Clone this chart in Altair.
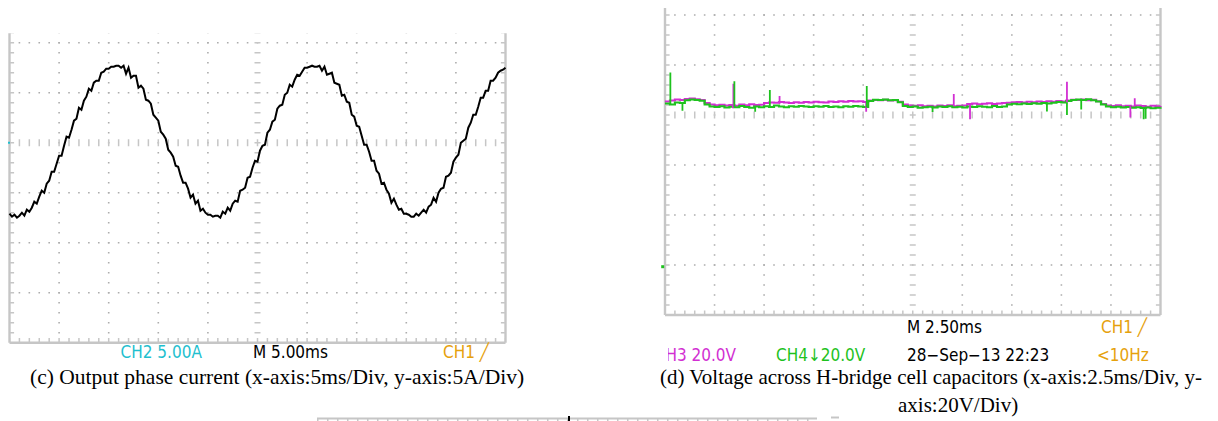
import altair as alt
import pandas as pd

# ---------------- data ----------------
# (c) CH2 output phase current [A], one sample every 0.25 ms, 0 .. 50 ms
CURRENT_STEP_MS = 0.25
current_a = [
    -7.1, -7.4, -7.2, -7.5, -7.3, -7.0, -7.3, -6.7, -6.9, -6.5, -5.9, -6.1, -5.4, -4.8, -5.0, -4.1, -3.8, -2.9, -2.9, -2.1,
    -1.3, -1.3, -0.3, 0.6, 0.5, 1.3, 2.2, 2.4, 3.5, 3.3, 4.2, 4.6, 5.4, 5.2, 6.0, 6.2, 6.2, 7.0, 7.1, 7.4,
    7.4, 7.6, 7.6, 7.7, 7.7, 7.5, 7.7, 6.9, 7.5, 6.5, 6.7, 6.7, 5.5, 5.7, 5.4, 4.3, 4.2, 3.9, 2.8, 2.5,
    2.2, 1.1, 0.8, 0.4, -0.7, -1.0, -1.4, -2.3, -2.4, -3.3, -4.0, -4.0, -4.6, -5.5, -5.2, -6.1, -5.8, -6.8, -6.6, -7.0,
    -7.2, -7.2, -7.4, -7.3, -7.3, -7.5, -6.9, -7.1, -6.5, -6.8, -6.1, -5.8, -5.9, -4.8, -4.7, -4.5, -3.5, -3.4, -2.5, -1.8,
    -1.9, -0.8, -0.3, -0.2, 1.0, 1.3, 2.1, 2.3, 3.4, 3.7, 3.8, 4.8, 5.0, 5.8, 5.6, 6.3, 6.8, 6.7, 7.1, 7.5,
    7.5, 7.6, 7.7, 7.6, 7.6, 7.7, 7.2, 7.6, 6.8, 6.9, 7.0, 6.0, 5.9, 5.8, 4.7, 4.8, 4.1, 4.0, 2.8, 2.6,
    1.7, 1.6, 0.7, -0.2, -0.2, -0.9, -1.8, -1.8, -2.8, -3.1, -4.1, -4.0, -4.7, -5.1, -6.0, -5.6, -6.2, -6.7, -6.6, -7.1,
    -7.1, -7.2, -7.4, -7.4, -7.1, -7.3, -7.0, -6.7, -7.0, -6.4, -6.2, -5.5, -5.9, -5.0, -4.6, -4.5, -3.4, -3.3, -3.0, -1.9,
    -1.5, -1.2, 0.0, 0.2, 0.4, 1.5, 2.0, 2.8, 2.8, 3.6, 4.5, 4.5, 5.2, 5.2, 6.2, 6.2, 6.5, 7.0, 7.2, 7.3, 7.5,
]

# (d) capacitor voltages [V], one sample every 0.25 ms, 0 .. 25 ms
VOLT_STEP_MS = 0.25
ch4_v = [
    64.6, 64.2, 65.0, 64.8, 65.9, 66.2, 66.0, 65.7, 64.2, 63.4, 63.2, 63.5, 63.0, 63.3, 63.1, 63.6,
    63.2, 62.9, 63.4, 63.1, 63.5, 63.2, 63.8, 63.4, 63.1, 63.5, 63.3, 63.6, 63.4, 63.2, 63.5, 63.3,
    63.6, 63.2, 63.4, 63.1, 63.5, 63.3, 63.6, 63.4, 63.2, 65.6, 66.1, 66.0, 66.2, 65.9, 66.0, 65.1,
    63.6, 63.2, 63.4, 62.9, 63.1, 63.3, 63.0, 63.4, 63.2, 63.5, 63.1, 63.3, 63.0, 63.4, 63.2, 63.5,
    63.3, 63.1, 63.6, 63.2, 63.4, 64.2, 64.5, 64.3, 64.6, 64.4, 64.7, 64.5, 64.8, 64.6, 64.9, 65.2,
    65.0, 65.6, 66.0, 66.2, 66.0, 66.3, 65.9, 65.4, 64.2, 63.4, 63.1, 63.3, 63.0, 63.2, 62.9, 63.1,
    62.8, 63.0, 62.7, 62.9, 63.1,
]
ch3_v = [
    65.4, 65.8, 66.2, 66.0, 66.4, 66.6, 66.3, 66.0, 64.8, 64.2, 63.9, 64.1, 63.8, 64.0, 63.7, 64.2,
    63.9, 64.3, 64.0, 64.1, 64.8, 65.0, 64.9, 65.2, 65.0, 64.8, 65.1, 64.9, 65.2, 65.0, 65.3, 65.1,
    65.0, 65.4, 65.2, 65.5, 65.3, 65.6, 65.4, 65.5, 65.2, 65.8, 66.0, 65.9, 66.1, 65.8, 65.9, 65.3,
    64.2, 63.8, 63.6, 63.9, 63.5, 63.7, 63.4, 63.8, 63.6, 63.9, 63.5, 63.7, 63.8, 64.4, 64.6, 64.3,
    64.5, 64.7, 64.4, 64.6, 64.8, 64.9, 65.1, 65.2, 65.0, 65.3, 65.1, 65.4, 65.2, 65.5, 65.3, 65.6,
    65.4, 65.8, 66.1, 66.0, 66.2, 65.9, 66.1, 65.5, 64.4, 63.8, 63.6, 63.9, 63.5, 63.7, 63.4, 63.8,
    63.6, 63.3, 63.7, 63.5, 63.6,
]
# narrow switching spikes: time [ms], low [V], high [V]
ch4_spike_t = [0.27, 0.88, 3.50, 4.55, 5.29, 10.18, 13.50, 19.27, 20.28, 21.00, 24.15, 24.25]
ch4_spike_lo = [64.0, 61.7, 63.0, 61.3, 63.0, 63.0, 61.2, 61.4, 60.0, 62.2, 58.3, 58.5]
ch4_spike_hi = [77.0, 65.0, 73.5, 63.5, 70.0, 71.6, 63.5, 64.6, 65.0, 66.0, 63.0, 63.0]
ch3_spike_t = [3.42, 3.45, 5.78, 10.15, 14.57, 15.39, 20.28, 23.48, 23.70]
ch3_spike_lo = [62.7, 63.0, 64.5, 61.3, 63.5, 58.3, 65.0, 59.0, 63.5]
ch3_spike_hi = [64.0, 72.5, 67.6, 65.0, 68.4, 64.0, 73.3, 63.5, 66.7]

# ---------------- styling ----------------
CYAN = "#1fbfcf"
ORANGE = "#e6a10c"
MAGENTA = "#d22fd2"
GREEN = "#1ec21e"
DOT = "#adadad"
BORDER = "#c6c6c6"
SCOPE_FONT = "DejaVu Sans Condensed, Liberation Sans Narrow, DejaVu Sans, sans-serif"
SERIF = "Liberation Serif, Times New Roman, serif"
ONE = pd.DataFrame({"k": [0]})

# panel geometry in chart pixels (chart origin = page (8, 8))
LEFT = dict(x0=1.5, x1=497.5, yb=334.7, yt=25.3, xdom=(0.0, 50.0), ydom=(-20.0, 10.94),
            xdiv=5.0, ydiv=5.0, xc=25.0, yc=0.0)
RIGHT = dict(x0=657.0, x1=1152.5, yb=307.0, yt=0.0, xdom=(0.0, 25.0), ydom=(-20.0, 102.8),
             xdiv=2.5, ydiv=20.0, xc=12.5, yc=60.0)


def sx(P):
    return alt.Scale(domain=list(P["xdom"]), range=[P["x0"], P["x1"]], zero=False, nice=False)


def sy(P):
    return alt.Scale(domain=list(P["ydom"]), range=[P["yb"], P["yt"]], zero=False, nice=False)


def frame(P):
    X = lambda f: alt.X(f, type="quantitative", scale=sx(P), axis=None)
    Y = lambda f: alt.Y(f, type="quantitative", scale=sy(P), axis=None)
    x0, x1 = P["xdom"]
    yb, yt = P["ydom"]
    ux = (x1 - x0) / (P["x1"] - P["x0"])
    uy = (yt - yb) / (P["yb"] - P["yt"])
    nx = int(round((x1 - x0) / P["xdiv"]))
    dotx = (P["x1"] - P["x0"]) / nx / 5.0
    doty = P["ydiv"] / uy / 5.0
    cols = [x0 + i * P["xdiv"] for i in range(1, nx) if abs(x0 + i * P["xdiv"] - P["xc"]) > 1e-9]
    rows = []
    v = yb + P["ydiv"]
    while v < yt:
        if abs(v - P["yc"]) > 1e-9:
            rows.append(v)
        v += P["ydiv"]
    L = []
    L.append(alt.Chart(pd.DataFrame({"y": rows, "xa": x0, "xb": x1})).mark_rule(
        color=DOT, strokeWidth=1.6, strokeDash=[1.6, dotx - 1.6], strokeDashOffset=0.8
    ).encode(x=X("xa"), x2="xb", y=Y("y")))
    L.append(alt.Chart(pd.DataFrame({"x": cols, "ya": yb, "yz": yt})).mark_rule(
        color=DOT, strokeWidth=1.6, strokeDash=[1.6, doty - 1.6], strokeDashOffset=0.8
    ).encode(x=X("x"), y=Y("ya"), y2="yz"))
    # centre lines with minor tick marks
    L.append(alt.Chart(pd.DataFrame({"y": [P["yc"]], "xa": x0, "xb": x1})).mark_rule(
        color=BORDER, strokeWidth=7, strokeDash=[1.5, dotx - 1.5], strokeDashOffset=0.75
    ).encode(x=X("xa"), x2="xb", y=Y("y")))
    L.append(alt.Chart(pd.DataFrame({"x": [P["xc"]], "ya": yb, "yz": yt})).mark_rule(
        color=BORDER, strokeWidth=6, strokeDash=[1.5, doty - 1.5], strokeDashOffset=0.75
    ).encode(x=X("x"), y=Y("ya"), y2="yz"))
    # inner border ticks
    L.append(alt.Chart(pd.DataFrame({"x": [x0 + 2.6 * ux, x1 - 2.6 * ux], "ya": yb, "yz": yt})).mark_rule(
        color=BORDER, strokeWidth=4, strokeDash=[1.5, doty - 1.5], strokeDashOffset=0.75
    ).encode(x=X("x"), y=Y("ya"), y2="yz"))
    L.append(alt.Chart(pd.DataFrame({"y": [yb + 2.6 * uy], "xa": x0, "xb": x1})).mark_rule(
        color=BORDER, strokeWidth=4, strokeDash=[1.5, dotx - 1.5], strokeDashOffset=0.75
    ).encode(x=X("xa"), x2="xb", y=Y("y")))
    # borders (left, right, bottom)
    L.append(alt.Chart(pd.DataFrame({"x": [x0, x1], "ya": yb, "yz": yt})).mark_rule(
        color=BORDER, strokeWidth=2.4
    ).encode(x=X("x"), y=Y("ya"), y2="yz"))
    L.append(alt.Chart(pd.DataFrame({"y": [yb], "xa": x0, "xb": x1})).mark_rule(
        color=BORDER, strokeWidth=2.4
    ).encode(x=X("xa"), x2="xb", y=Y("y")))
    return L


def label(txt, x, y, color, size=17, font=SCOPE_FONT, align="left"):
    return alt.Chart(ONE).mark_text(
        text=txt, color=color, fontSize=size, font=font, align=align, baseline="middle"
    ).encode(x=alt.value(x), y=alt.value(y))


layers = []

# ---- (c) left panel ----
layers += frame(LEFT)
cur_df = pd.DataFrame({"t": [i * CURRENT_STEP_MS for i in range(len(current_a))], "i": current_a})
layers.append(alt.Chart(cur_df).mark_line(color="black", strokeWidth=2.0).encode(
    x=alt.X("t:Q", scale=sx(LEFT), axis=None), y=alt.Y("i:Q", scale=sy(LEFT), axis=None)))
layers.append(alt.Chart(ONE).mark_rule(color=CYAN, strokeWidth=2).encode(
    x=alt.value(0), x2=alt.value(2), y=alt.value(134.7)))

# ---- (d) right panel ----
layers += frame(RIGHT)
v_t = [i * VOLT_STEP_MS for i in range(len(ch4_v))]
XR = alt.X("t:Q", scale=sx(RIGHT), axis=None)
layers.append(alt.Chart(pd.DataFrame({"t": v_t, "v": ch3_v})).mark_line(
    color=MAGENTA, strokeWidth=2.2, interpolate="step-after").encode(x=XR, y=alt.Y("v:Q", scale=sy(RIGHT), axis=None)))
layers.append(alt.Chart(pd.DataFrame({"t": v_t, "v": ch4_v})).mark_line(
    color=GREEN, strokeWidth=2.2, interpolate="step-after").encode(x=XR, y=alt.Y("v:Q", scale=sy(RIGHT), axis=None)))
layers.append(alt.Chart(pd.DataFrame({"t": ch3_spike_t, "lo": ch3_spike_lo, "hi": ch3_spike_hi})).mark_rule(
    color=MAGENTA, strokeWidth=1.8).encode(x=XR, y=alt.Y("lo:Q", scale=sy(RIGHT), axis=None), y2="hi:Q"))
layers.append(alt.Chart(pd.DataFrame({"t": ch4_spike_t, "lo": ch4_spike_lo, "hi": ch4_spike_hi})).mark_rule(
    color=GREEN, strokeWidth=1.8).encode(x=XR, y=alt.Y("lo:Q", scale=sy(RIGHT), axis=None), y2="hi:Q"))
layers.append(alt.Chart(ONE).mark_square(color=GREEN, size=9, opacity=1).encode(
    x=alt.value(654.7), y=alt.value(258.7)))

# ---- partial third panel at the bottom ----
layers.append(alt.Chart(ONE).mark_rule(color=BORDER, strokeWidth=2).encode(
    x=alt.value(309), x2=alt.value(809), y=alt.value(410.5)))
layers.append(alt.Chart(ONE).mark_rule(color=BORDER, strokeWidth=3, strokeDash=[1.5, 8.5]).encode(
    x=alt.value(309), x2=alt.value(809), y=alt.value(412)))
layers.append(alt.Chart(ONE).mark_rule(color="black", strokeWidth=2).encode(
    x=alt.value(561), y=alt.value(408), y2=alt.value(413)))
layers.append(alt.Chart(ONE).mark_rule(color=BORDER, strokeWidth=2).encode(
    x=alt.value(823), x2=alt.value(831), y=alt.value(409.5)))

# ---- texts ----
layers += [
    label("CH2  5.00A", 112.6, 345, CYAN),
    label("M 5.00ms", 245, 345, "black"),
    label("CH1 \u2571", 435, 345, ORANGE),
    label("(c) Output phase current (x-axis:5ms/Div, y-axis:5A/Div)", 22, 370, "black", size=21.5, font=SERIF),
    label("M 2.50ms", 899, 320, "black"),
    label("CH1 \u2571", 1093, 320, ORANGE),
    label("CH3  20.0V", 728, 348, MAGENTA, align="right"),
    label("CH4\u219320.0V", 768, 348, GREEN),
    label("28\u2212Sep\u221213 22:23", 899, 348, "black"),
    label("<10Hz", 1089, 348, ORANGE),
    label("(d) Voltage across H-bridge cell capacitors (x-axis:2.5ms/Div, y-", 652, 370, "black", size=21, font=SERIF),
    label("axis:20V/Div)", 890, 398, "black", size=21, font=SERIF),
]
# the reference crops the left part of the "CH3" label
layers.append(alt.Chart(ONE).mark_rect(color="white").encode(
    x=alt.value(600), x2=alt.value(660), y=alt.value(336), y2=alt.value(360)))

chart = alt.layer(*layers).resolve_scale(x="independent", y="independent").properties(
    width=1202, height=413, autosize=alt.AutoSizeParams(type="none"), padding=0
).configure_view(stroke=None)

chart.save("out.html", embed_options={"renderer": "svg", "actions": False})
